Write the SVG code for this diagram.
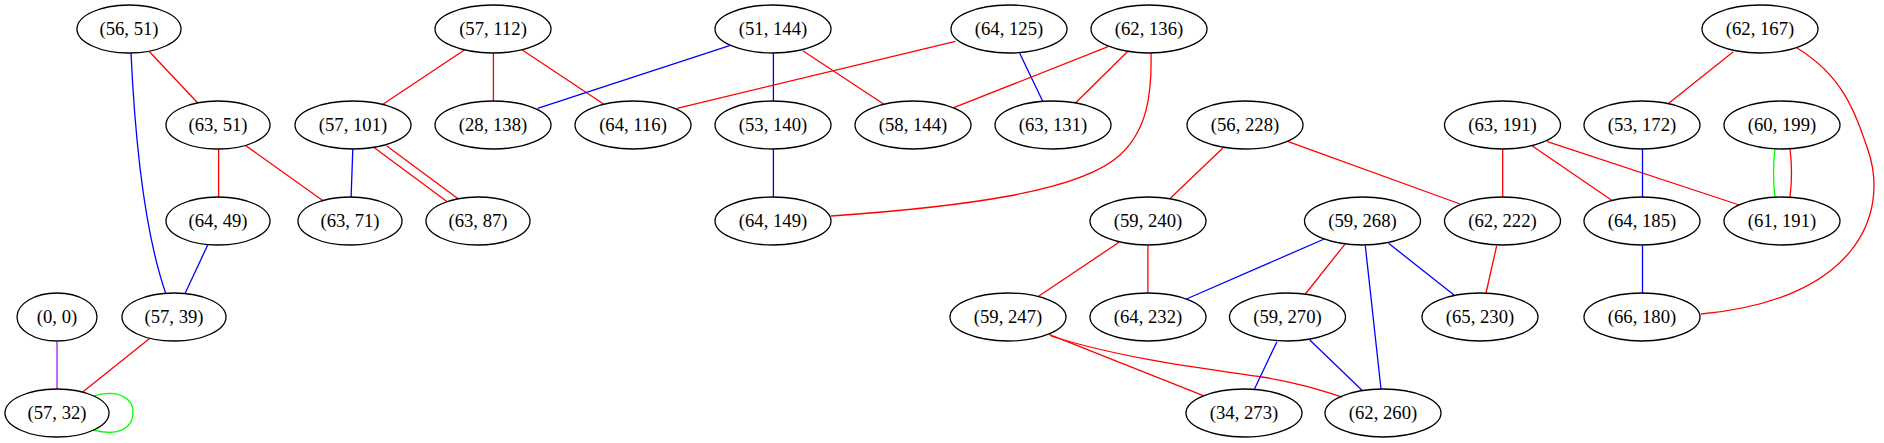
<svg xmlns="http://www.w3.org/2000/svg" width="1884" height="443" viewBox="0 0 1884 443">
<style>
.n ellipse{fill:none;stroke:#000;stroke-width:1.3}
.n text{font-family:"Liberation Serif","DejaVu Serif",serif;font-size:18.67px;text-anchor:middle;fill:#000}
#edges path,#edges line{fill:none;stroke-width:1.3}
.r{stroke:#ff0000}.b{stroke:#0000ff}.g{stroke:#00ff00}.p{stroke:#a020f0}
</style>
<rect width="1884" height="443" fill="#fff"/>
<g id="edges">
<line class="r" x1="149.5" y1="51.7" x2="198" y2="103.3"/>
<path class="b" d="M131,53 C136,160 147,240 166,294"/>
<line class="r" x1="218.6" y1="149.3" x2="218.6" y2="197.3"/>
<line class="r" x1="245.9" y1="145.7" x2="323.4" y2="201"/>
<line class="b" x1="352.8" y1="149.3" x2="351.1" y2="197.3"/>
<line class="r" x1="374.4" y1="147.7" x2="447.2" y2="201.7"/>
<line class="r" x1="386.5" y1="145.7" x2="458.4" y2="199"/>
<line class="r" x1="464.4" y1="50" x2="382.9" y2="104.3"/>
<line class="r" x1="493.4" y1="53.3" x2="493.4" y2="101"/>
<line class="r" x1="522.3" y1="50" x2="603.9" y2="104.3"/>
<line class="b" x1="729.6" y1="45.7" x2="537.6" y2="108.3"/>
<line class="b" x1="773.4" y1="53.3" x2="773.4" y2="101"/>
<line class="r" x1="802.8" y1="50.7" x2="883.9" y2="104.3"/>
<line class="r" x1="955.4" y1="41.3" x2="677" y2="108.3"/>
<line class="b" x1="1019.7" y1="53.3" x2="1042.6" y2="101"/>
<line class="r" x1="1108.1" y1="46.7" x2="953.8" y2="107.7"/>
<line class="r" x1="1127.4" y1="51.7" x2="1075.2" y2="103.3"/>
<path class="r" d="M1151,53 C1152,95 1147,130 1120,155 C1080,192 960,207 831,216"/>
<line class="b" x1="773.4" y1="149.3" x2="773.4" y2="197.3"/>
<line class="b" x1="207.7" y1="245" x2="184.8" y2="294"/>
<line class="p" x1="57" y1="341.7" x2="57" y2="389"/>
<line class="r" x1="149.9" y1="338.3" x2="82.4" y2="392.3"/>
<path class="g" d="M93,396 C120,388 134,400 133,413 C133,427 120,437 93,430"/>
<line class="r" x1="1222.6" y1="148.3" x2="1169.6" y2="199"/>
<line class="r" x1="1288.2" y1="141.7" x2="1460.1" y2="204"/>
<line class="r" x1="1119" y1="242.3" x2="1037.8" y2="296.7"/>
<line class="r" x1="1147.9" y1="245.7" x2="1147.9" y2="293.3"/>
<line class="b" x1="1324.3" y1="239" x2="1186.4" y2="299"/>
<line class="r" x1="1344.8" y1="244.3" x2="1305.4" y2="294"/>
<line class="b" x1="1365.3" y1="245.7" x2="1381" y2="389"/>
<line class="b" x1="1388.6" y1="243.3" x2="1454" y2="295"/>
<line class="r" x1="1049" y1="334.3" x2="1203.3" y2="395.7"/>
<path class="r" d="M1051,336 C1120,358 1200,368 1262,377 C1295,382 1320,390 1342,397"/>
<line class="b" x1="1276.9" y1="341.7" x2="1254" y2="390"/>
<line class="b" x1="1309.8" y1="340" x2="1362.5" y2="390.7"/>
<line class="r" x1="1496.7" y1="245.7" x2="1485.8" y2="294"/>
<line class="r" x1="1502.7" y1="149.3" x2="1502.7" y2="197.3"/>
<line class="r" x1="1532" y1="145.7" x2="1612.8" y2="201"/>
<line class="r" x1="1547.3" y1="141.7" x2="1739.3" y2="205"/>
<line class="r" x1="1733.3" y1="51.7" x2="1667.8" y2="104"/>
<path class="r" d="M1797,48 C1843,76 1855,112 1868,150 C1890,215 1855,300 1701,314"/>
<line class="b" x1="1642.5" y1="149.3" x2="1642.5" y2="197.3"/>
<path class="g" d="M1775,149 C1773,165 1773,181 1775,197"/>
<path class="r" d="M1790,149 C1792,165 1792,181 1790,197"/>
<line class="b" x1="1642.5" y1="245.7" x2="1642.5" y2="293.3"/>
</g>
<g id="n1" class="n"><ellipse cx="129" cy="29" rx="52" ry="24"/><text x="129" y="35">(56, 51)</text></g>
<g id="n2" class="n"><ellipse cx="493" cy="29" rx="58" ry="24"/><text x="493" y="35">(57, 112)</text></g>
<g id="n3" class="n"><ellipse cx="773" cy="29" rx="58" ry="24"/><text x="773" y="35">(51, 144)</text></g>
<g id="n4" class="n"><ellipse cx="1009" cy="29" rx="58" ry="24"/><text x="1009" y="35">(64, 125)</text></g>
<g id="n5" class="n"><ellipse cx="1149" cy="29" rx="58" ry="24"/><text x="1149" y="35">(62, 136)</text></g>
<g id="n6" class="n"><ellipse cx="1760" cy="29" rx="58" ry="24"/><text x="1760" y="35">(62, 167)</text></g>
<g id="n7" class="n"><ellipse cx="218" cy="125" rx="52" ry="24"/><text x="218" y="131">(63, 51)</text></g>
<g id="n8" class="n"><ellipse cx="353" cy="125" rx="58" ry="24"/><text x="353" y="131">(57, 101)</text></g>
<g id="n9" class="n"><ellipse cx="493" cy="125" rx="58" ry="24"/><text x="493" y="131">(28, 138)</text></g>
<g id="n10" class="n"><ellipse cx="633" cy="125" rx="58" ry="24"/><text x="633" y="131">(64, 116)</text></g>
<g id="n11" class="n"><ellipse cx="773" cy="125" rx="58" ry="24"/><text x="773" y="131">(53, 140)</text></g>
<g id="n12" class="n"><ellipse cx="913" cy="125" rx="58" ry="24"/><text x="913" y="131">(58, 144)</text></g>
<g id="n13" class="n"><ellipse cx="1053" cy="125" rx="58" ry="24"/><text x="1053" y="131">(63, 131)</text></g>
<g id="n14" class="n"><ellipse cx="1245" cy="125" rx="58" ry="24"/><text x="1245" y="131">(56, 228)</text></g>
<g id="n15" class="n"><ellipse cx="1502.5" cy="125" rx="58" ry="24"/><text x="1502.5" y="131">(63, 191)</text></g>
<g id="n16" class="n"><ellipse cx="1642" cy="125" rx="58" ry="24"/><text x="1642" y="131">(53, 172)</text></g>
<g id="n17" class="n"><ellipse cx="1782" cy="125" rx="58" ry="24"/><text x="1782" y="131">(60, 199)</text></g>
<g id="n18" class="n"><ellipse cx="218" cy="221" rx="52" ry="24"/><text x="218" y="227">(64, 49)</text></g>
<g id="n19" class="n"><ellipse cx="350" cy="221" rx="52" ry="24"/><text x="350" y="227">(63, 71)</text></g>
<g id="n20" class="n"><ellipse cx="478" cy="221" rx="52" ry="24"/><text x="478" y="227">(63, 87)</text></g>
<g id="n21" class="n"><ellipse cx="773" cy="221" rx="58" ry="24"/><text x="773" y="227">(64, 149)</text></g>
<g id="n22" class="n"><ellipse cx="1148" cy="221" rx="58" ry="24"/><text x="1148" y="227">(59, 240)</text></g>
<g id="n23" class="n"><ellipse cx="1362.5" cy="221" rx="58" ry="24"/><text x="1362.5" y="227">(59, 268)</text></g>
<g id="n24" class="n"><ellipse cx="1502.5" cy="221" rx="58" ry="24"/><text x="1502.5" y="227">(62, 222)</text></g>
<g id="n25" class="n"><ellipse cx="1642" cy="221" rx="58" ry="24"/><text x="1642" y="227">(64, 185)</text></g>
<g id="n26" class="n"><ellipse cx="1782" cy="221" rx="58" ry="24"/><text x="1782" y="227">(61, 191)</text></g>
<g id="n27" class="n"><ellipse cx="57" cy="317" rx="40" ry="24"/><text x="57" y="323">(0, 0)</text></g>
<g id="n28" class="n"><ellipse cx="174" cy="317" rx="52" ry="24"/><text x="174" y="323">(57, 39)</text></g>
<g id="n29" class="n"><ellipse cx="1008" cy="317" rx="58" ry="24"/><text x="1008" y="323">(59, 247)</text></g>
<g id="n30" class="n"><ellipse cx="1148" cy="317" rx="58" ry="24"/><text x="1148" y="323">(64, 232)</text></g>
<g id="n31" class="n"><ellipse cx="1287.5" cy="317" rx="58" ry="24"/><text x="1287.5" y="323">(59, 270)</text></g>
<g id="n32" class="n"><ellipse cx="1480" cy="317" rx="58" ry="24"/><text x="1480" y="323">(65, 230)</text></g>
<g id="n33" class="n"><ellipse cx="1642" cy="317" rx="58" ry="24"/><text x="1642" y="323">(66, 180)</text></g>
<g id="n34" class="n"><ellipse cx="57" cy="413" rx="52" ry="24"/><text x="57" y="419">(57, 32)</text></g>
<g id="n35" class="n"><ellipse cx="1244" cy="413" rx="58" ry="24"/><text x="1244" y="419">(34, 273)</text></g>
<g id="n36" class="n"><ellipse cx="1383" cy="413" rx="58" ry="24"/><text x="1383" y="419">(62, 260)</text></g>
</svg>
